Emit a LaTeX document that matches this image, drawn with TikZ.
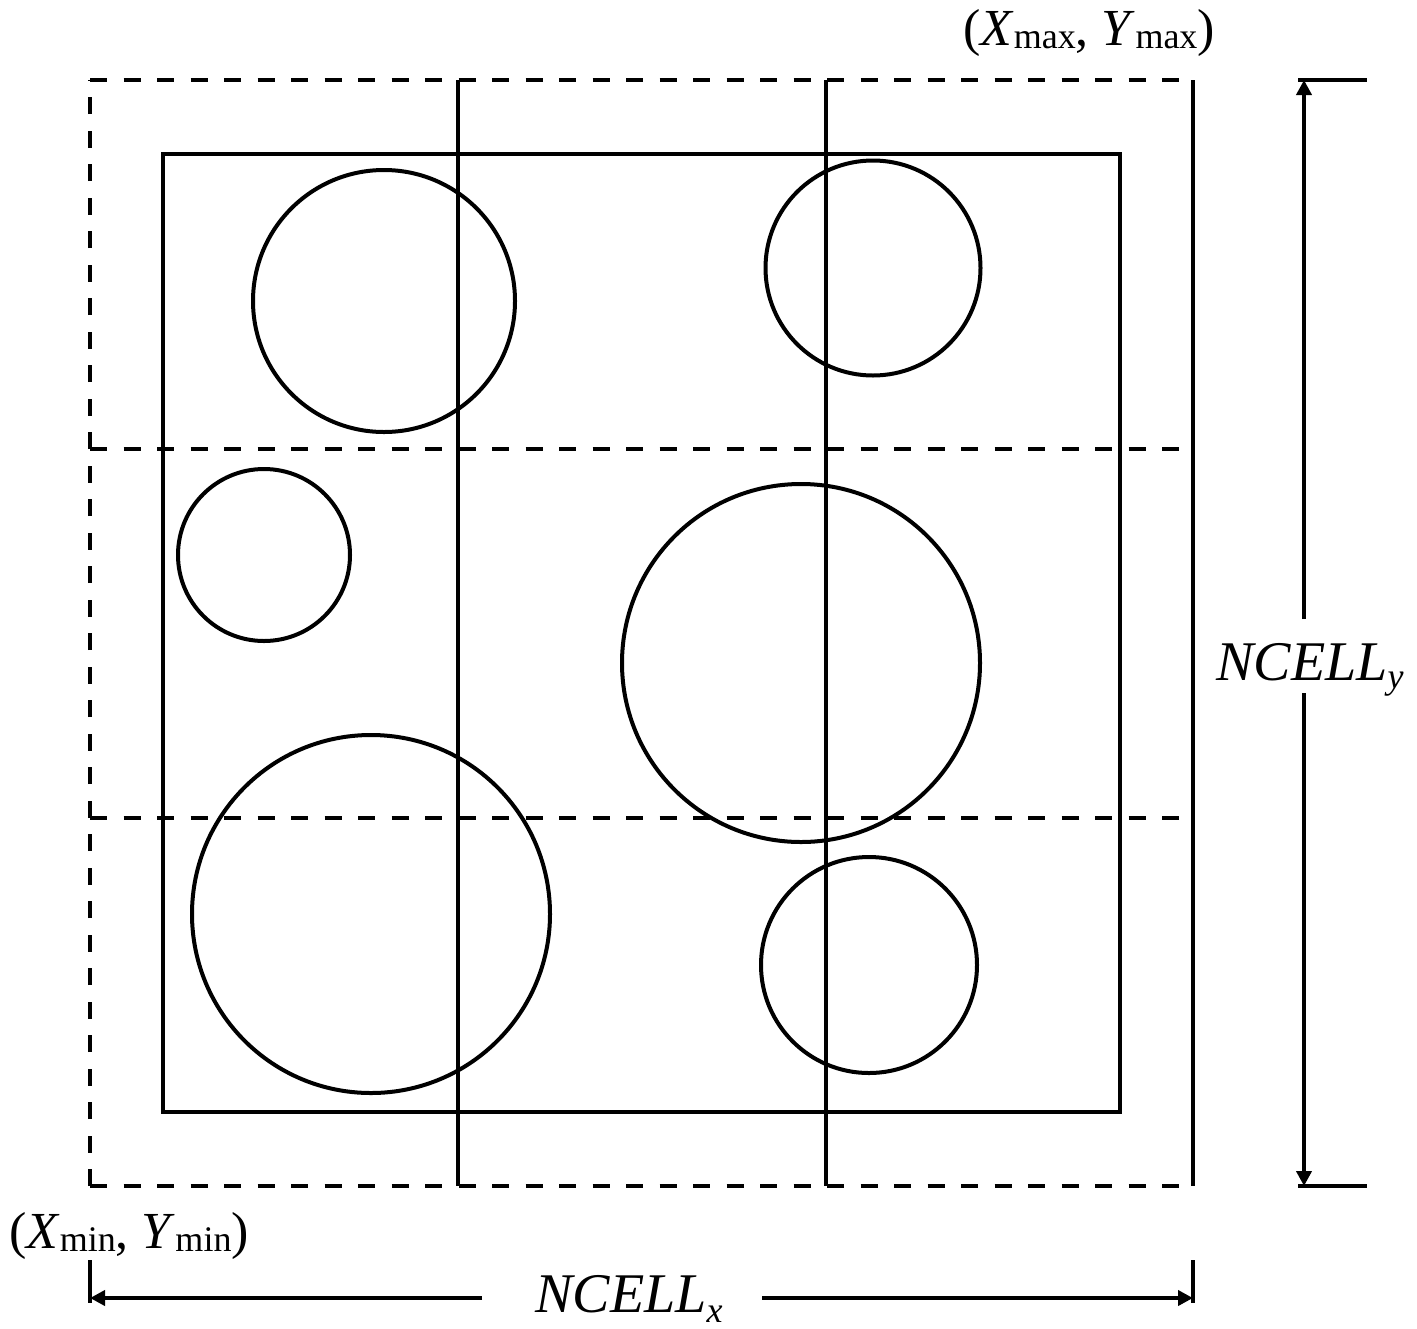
\documentclass[tikz,border=0pt]{standalone}
\usepackage{fontspec}
\setmainfont{Liberation Serif}
\usetikzlibrary{arrows.meta}
\newcommand{\subtxt}[2]{\raisebox{-#1}{\fontsize{18}{18}\selectfont #2}}
\tikzset{
  thick line/.style={line width=2pt},
  dsh/.style={line width=2pt, dash pattern=on 8.5pt off 8.25pt},
  dimarrow/.style={line width=2pt, -{Triangle[length=7.5pt,width=7.5pt]}},
  lab/.style={inner sep=0pt, anchor=base},
  bigfont/.style={font=\fontsize{28}{28}\selectfont},
  midfont/.style={font=\fontsize{26}{26}\selectfont}
}
\begin{document}
\begin{tikzpicture}[x=0.5pt,y=-0.5pt]
\useasboundingbox (0,0) rectangle (1417,1328);
% outer domain corners
\coordinate (A) at (90,80);
\coordinate (B) at (1193,80);
\coordinate (C) at (1193,1186);
\coordinate (D) at (90,1186);
% dashed outer boundary (left, top, bottom), solid right
\draw[dsh] (D) -- (A);
\draw[dsh] (A) -- (B);
\draw[dsh] (D) -- (C);
\draw[thick line] (B) -- (C);
% dashed horizontal cell lines
\draw[dsh] (90,449) -- (1193,449);
\draw[dsh] (90,818) -- (1193,818);
% solid vertical cell lines
\draw[thick line] (458,80) -- (458,1186);
\draw[thick line] (826,80) -- (826,1186);
% inner box
\draw[thick line] (163,154) rectangle (1120,1112);
% circles
\draw[thick line] (384,301) circle[radius=65.5pt];
\draw[thick line] (873,268) circle[radius=53.75pt];
\draw[thick line] (264,555) circle[radius=43pt];
\draw[thick line] (801,663) circle[radius=89.5pt];
\draw[thick line] (371,914) circle[radius=89.5pt];
\draw[thick line] (869,965) circle[radius=54pt];
% labels
\node[lab, midfont] (maxlab) at (1089,45) {(\textit{X}\subtxt{1.5pt}{max}, \textit{Y}\subtxt{1.5pt}{max})};
\node[lab, midfont] (minlab) at (129,1248) {(\textit{X}\subtxt{1.5pt}{min}, \textit{Y}\subtxt{1.5pt}{min})};
\node[lab, bigfont] (ny) at (1310,680) {\textit{NCELL}\subtxt{4pt}{\textit{y}}};
\node[lab, bigfont] (nx) at (629,1312) {\textit{NCELL}\subtxt{5pt}{\textit{x}}};
% right dimension
\coordinate (ttl) at (1298,80);
\coordinate (ttr) at (1367,80);
\coordinate (tbl) at (1298,1186);
\coordinate (tbr) at (1367,1186);
\draw[thick line] (ttl) -- (ttr);
\draw[thick line] (tbl) -- (tbr);
\coordinate (yup) at (1304,619);
\coordinate (ydn) at (1304,693);
\draw[dimarrow] (yup) -- (1304,80);
\draw[dimarrow] (ydn) -- (1304,1186);
% bottom dimension
\coordinate (lt1) at (90,1260);
\coordinate (lt2) at (90,1303);
\coordinate (rt1) at (1193,1260);
\coordinate (rt2) at (1193,1303);
\draw[thick line] (lt1) -- (lt2);
\draw[thick line] (rt1) -- (rt2);
\coordinate (xl) at (482,1298);
\coordinate (xr) at (762,1298);
\draw[dimarrow] (xl) -- (90,1298);
\draw[dimarrow] (xr) -- (1193,1298);
\end{tikzpicture}
\end{document}
